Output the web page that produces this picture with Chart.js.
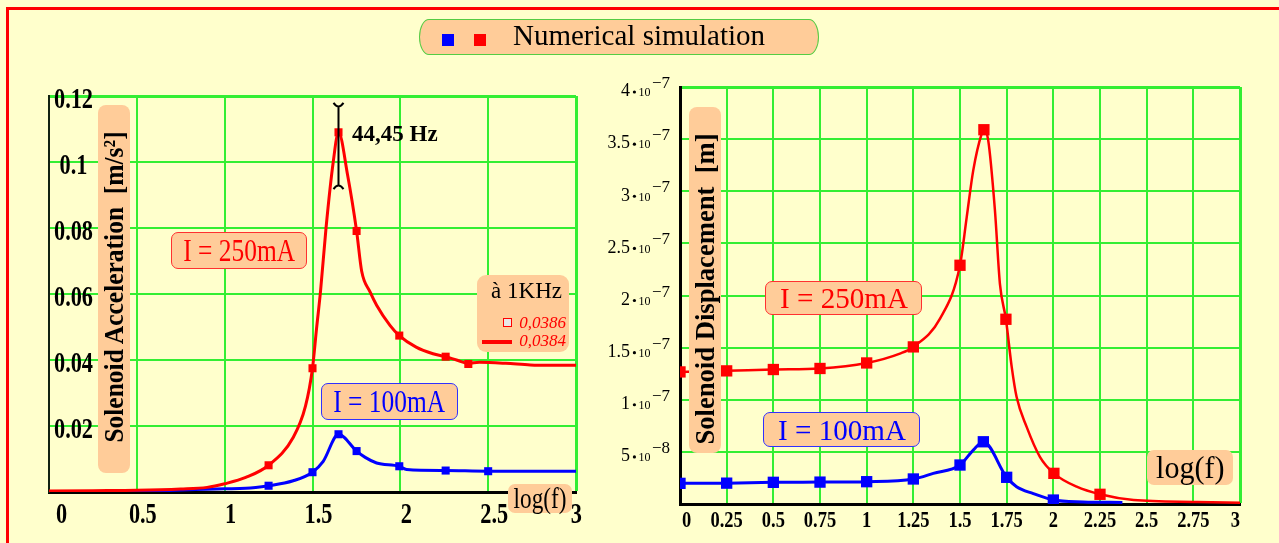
<!DOCTYPE html>
<html>
<head>
<meta charset="utf-8">
<script src="https://cdn.jsdelivr.net/npm/chart.js"></script>
<style>
  body { margin: 0; background: #ffffcc; width: 1279px; height: 543px; overflow: hidden; position: relative; font-family: "Liberation Serif", "DejaVu Serif", serif; }
  canvas { position: absolute; top: 0; }
  .box { position: absolute; background: #ffcc99; border-radius: 7px; box-sizing: border-box; display: flex; align-items: center; justify-content: center; white-space: pre; line-height: 1; }
  .sq { display: inline-block; white-space: pre; }
  .abs { position: absolute; white-space: pre; line-height: 1; }
  .vt { position: absolute; left: 16px; top: 182px; font-weight: bold; font-size: 28px; white-space: pre; line-height: 1; transform: translate(-50%, -50%) rotate(-90deg) scaleX(0.91); }
</style>
</head>
<body>
<div style="position:absolute;left:6px;top:7px;width:1300px;height:600px;border-top:3px solid #ff0000;border-left:3px solid #ff0000;"></div>

<canvas id="accChart" width="600" height="543" style="left:0"></canvas>
<canvas id="dispChart" width="679" height="543" style="left:600px"></canvas>

<!-- legend -->
<div class="box" style="left:419px;top:19px;width:400px;height:36px;border:1px solid #55cc44;border-radius:10px/18px;"></div>
<div class="abs" style="left:442px;top:34px;width:12px;height:12px;background:#0000ff;"></div>
<div class="abs" style="left:474px;top:34px;width:12px;height:12px;background:#ff0000;"></div>
<div class="abs" style="left:513px;top:21px;font-size:29px;">Numerical simulation</div>

<!-- left chart notes -->
<div class="box" style="left:98px;top:105px;width:32px;height:368px;border-radius:8px;"><span class="vt">Solenoid Acceleration  [m/s²]</span></div>
<div class="box" style="left:171px;top:232px;width:136px;height:37px;border:1px solid #ff3030;color:#ff0000;font-size:31px;"><span class="sq" style="transform:scaleX(0.82)">I = 250mA</span></div>
<div class="box" style="left:321px;top:383px;width:137px;height:37px;border:1px solid #3030ff;color:#0000ff;font-size:31px;"><span class="sq" style="transform:scaleX(0.82)">I = 100mA</span></div>
<div class="box" style="left:508px;top:484px;width:64px;height:29px;font-size:29px;"><span class="sq" style="transform:scaleX(0.8)">log(f)</span></div>
<div class="abs" style="left:352px;top:122px;font-size:23px;font-weight:bold;">44,45 Hz</div>
<div class="box" style="left:477px;top:275px;width:92px;height:77px;border-radius:9px;display:block;">
  <div class="abs" style="right:7px;top:4px;font-size:23px;">à 1KHz</div>
  <div class="abs" style="left:26px;top:43px;width:9px;height:9px;box-sizing:border-box;background:#e8e8e8;border:1px solid #ff0000;"></div>
  <div class="abs" style="right:3px;top:39px;font-size:17px;font-style:italic;color:#ff0000;">0,0386</div>
  <div class="abs" style="left:5px;top:65px;width:30px;height:4px;background:#ff0000;"></div>
  <div class="abs" style="right:3px;top:57px;font-size:17px;font-style:italic;color:#ff0000;">0,0384</div>
</div>

<!-- right chart notes -->
<div class="box" style="left:689px;top:107px;width:32px;height:346px;border-radius:8px;"><span class="vt" style="top:182px;transform:translate(-50%,-50%) rotate(-90deg) scaleX(0.95)">Solenoid Displacement  [m]</span></div>
<div class="box" style="left:765px;top:281px;width:157px;height:34px;border:1px solid #ff3030;color:#ff0000;font-size:30px;"><span class="sq" style="transform:scaleX(0.97)">I = 250mA</span></div>
<div class="box" style="left:763px;top:412px;width:157px;height:35px;border:1px solid #3030ff;color:#0000ff;font-size:30px;"><span class="sq" style="transform:scaleX(0.97)">I = 100mA</span></div>
<div class="box" style="left:1147px;top:450px;width:86px;height:35px;font-size:31px;"><span class="sq" style="transform:scaleX(0.97)">log(f)</span></div>

<script>
// acceleration chart (left) - log(f) vs m/s²
const accX250 = [0, 0.25, 0.5, 0.75, 0.9, 1.0, 1.12, 1.25, 1.39, 1.46, 1.5, 1.523, 1.546, 1.577, 1.618, 1.648, 1.70, 1.751, 1.78, 1.827, 1.865, 1.941, 1.994, 2.09, 2.186, 2.258, 2.32, 2.387, 2.45, 2.6, 2.74, 2.85, 3.0];
const accY250 = [0.0003, 0.0004, 0.0005, 0.0009, 0.0014, 0.0025, 0.0044, 0.0081, 0.0165, 0.026, 0.0375, 0.0495, 0.061, 0.080, 0.100, 0.109, 0.096, 0.0791, 0.0669, 0.0607, 0.0566, 0.0505, 0.0474, 0.0439, 0.0419, 0.0410, 0.0400, 0.0390, 0.0393, 0.0390, 0.0385, 0.0384, 0.0384];
const accMarkX250 = [1.25, 1.5, 1.648, 1.751, 1.994, 2.258, 2.387];
const accMarkY250 = [0.0081, 0.0375, 0.109, 0.0791, 0.0474, 0.041, 0.0388];

const accX100 = [0, 0.5, 1.0, 1.12, 1.25, 1.39, 1.5, 1.561, 1.648, 1.751, 1.80, 1.865, 1.994, 2.036, 2.258, 2.5, 3.0];
const accY100 = [0.0001, 0.0002, 0.001, 0.0011, 0.0019, 0.0034, 0.006, 0.0093, 0.0175, 0.0124, 0.0105, 0.0088, 0.0078, 0.0068, 0.0065, 0.0063, 0.0063];
const accMarkX100 = [1.25, 1.5, 1.648, 1.751, 1.994, 2.258, 2.5];
const accMarkY100 = [0.0019, 0.006, 0.0175, 0.0124, 0.0078, 0.0065, 0.0063];

const accXTicks = [0, 0.5, 1, 1.5, 2, 2.5, 3];
const accXLabels = ['0', '0.5', '1', '1.5', '2', '2.5', '3'];
const accYTicks = [0.02, 0.04, 0.06, 0.08, 0.1, 0.12];
const accYLabels = ['0.02', '0.04', '0.06', '0.08', '0.1', '0.12'];
const peakBar = [1.648, 0.0927, 0.117]; // x, low, high

// displacement chart (right), values in 1e-7 m
const dispX250 = [0, 0.25, 0.5, 0.75, 1.0, 1.178, 1.25, 1.393, 1.5, 1.536, 1.571, 1.616, 1.628, 1.651, 1.687, 1.714, 1.746, 1.777, 1.803, 1.857, 1.928, 2.003, 2.125, 2.25, 2.43, 2.77, 3.0];
const dispY250 = [1.267, 1.277, 1.29, 1.30, 1.353, 1.443, 1.507, 1.778, 2.29, 2.752, 3.2, 3.55, 3.59, 3.49, 2.82, 2.11, 1.772, 1.315, 1.028, 0.74, 0.453, 0.294, 0.166, 0.093, 0.038, 0.02, 0.012];
const dispMarkX250 = [0, 0.25, 0.5, 0.75, 1.0, 1.25, 1.5, 1.628, 1.746, 2.003, 2.25];
const dispMarkY250 = [1.267, 1.277, 1.29, 1.30, 1.353, 1.507, 2.29, 3.59, 1.772, 0.294, 0.093];

const dispX100 = [0, 0.25, 0.5, 0.75, 1.0, 1.25, 1.357, 1.5, 1.571, 1.625, 1.75, 1.803, 1.893, 2.0, 2.16, 2.37];
const dispY100 = [0.198, 0.2, 0.208, 0.21, 0.214, 0.24, 0.294, 0.374, 0.517, 0.597, 0.256, 0.166, 0.1, 0.038, 0.02, 0.015];
const dispMarkX100 = [0, 0.25, 0.5, 0.75, 1.0, 1.25, 1.5, 1.625, 1.75, 2.0];
const dispMarkY100 = [0.198, 0.2, 0.208, 0.21, 0.214, 0.24, 0.374, 0.597, 0.256, 0.038];

const dispXTicks = [0, 0.25, 0.5, 0.75, 1, 1.25, 1.5, 1.75, 2, 2.25, 2.5, 2.75, 3];
const dispXLabels = ['0', '0.25', '0.5', '0.75', '1', '1.25', '1.5', '1.75', '2', '2.25', '2.5', '2.75', '3'];
const dispYTicks = [0.5, 1, 1.5, 2, 2.5, 3, 3.5, 4];
const dispYMant = ['5', '1', '1.5', '2', '2.5', '3', '3.5', '4'];
const dispYExp = ['\u22128', '\u22127', '\u22127', '\u22127', '\u22127', '\u22127', '\u22127', '\u22127'];

const SERIF = '"Liberation Serif", "DejaVu Serif", serif';
const GRID = '#33ee33';

function pts(xs, ys) {
  return xs.map((x, i) => ({ x: x, y: ys[i] }));
}

function squeezed(ctx, txt, x, y, sx) {
  ctx.save();
  ctx.translate(x, y);
  ctx.scale(sx, 1);
  ctx.fillText(txt, 0, 0);
  ctx.restore();
}

function markers(xs, ys, color, r) {
  return { data: pts(xs, ys), showLine: false, pointStyle: 'rect', pointRadius: r, backgroundColor: color, borderWidth: 0 };
}
function curve(xs, ys, color, w) {
  return { data: pts(xs, ys), showLine: true, borderColor: color, borderWidth: w, pointRadius: 0, cubicInterpolationMode: 'monotone' };
}

// tick labels of the left chart, condensed bold serif
const accLabels = {
  id: 'accLabels',
  afterDraw(chart) {
    const ctx = chart.ctx, area = chart.chartArea;
    const xs = chart.scales.x, ys = chart.scales.y;
    ctx.save();
    ctx.fillStyle = '#000';
    ctx.font = 'bold 29px ' + SERIF;
    ctx.textAlign = 'center';
    ctx.textBaseline = 'alphabetic';
    accXTicks.forEach((v, i) => {
      const w = ctx.measureText(accXLabels[i]).width * 0.77;
      let cx = xs.getPixelForValue(v) + 6;
      cx = Math.max(cx, area.left + 7 + w / 2);
      cx = Math.min(cx, area.right + 6 - w / 2);
      squeezed(ctx, accXLabels[i], cx, area.bottom + 31, 0.77);
    });
    accYTicks.forEach((v, i) => {
      squeezed(ctx, accYLabels[i], area.left + 24.5, ys.getPixelForValue(v) + 12, 0.77);
    });
    // resonance marker
    const px = xs.getPixelForValue(peakBar[0]);
    const lo = ys.getPixelForValue(peakBar[1]);
    const hi = ys.getPixelForValue(peakBar[2]);
    ctx.strokeStyle = '#000';
    ctx.lineWidth = 2;
    ctx.beginPath();
    ctx.moveTo(px, hi); ctx.lineTo(px, lo);
    ctx.moveTo(px - 5, hi - 3); ctx.quadraticCurveTo(px, hi + 4, px + 5, hi - 3);
    ctx.moveTo(px - 5, lo + 3); ctx.quadraticCurveTo(px, lo - 4, px + 5, lo + 3);
    ctx.stroke();
    ctx.restore();
  }
};

// tick labels of the right chart, "m·10^e" style on y
const dispLabels = {
  id: 'dispLabels',
  afterDraw(chart) {
    const ctx = chart.ctx, area = chart.chartArea;
    const xs = chart.scales.x, ys = chart.scales.y;
    ctx.save();
    ctx.fillStyle = '#000';
    ctx.font = 'bold 24px ' + SERIF;
    ctx.textAlign = 'center';
    ctx.textBaseline = 'alphabetic';
    dispXTicks.forEach((v, i) => {
      const w = ctx.measureText(dispXLabels[i]).width * 0.77;
      let cx = xs.getPixelForValue(v);
      cx = Math.max(cx, area.left + 2 + w / 2);
      cx = Math.min(cx, area.right - w / 2);
      squeezed(ctx, dispXLabels[i], cx, area.bottom + 23, 0.77);
    });
    ctx.textAlign = 'right';
    dispYTicks.forEach((v, i) => {
      const py = ys.getPixelForValue(v);
      let xr = area.left - 10;
      ctx.font = '17px ' + SERIF;
      ctx.fillText(dispYExp[i], xr, py + 1);
      xr -= ctx.measureText(dispYExp[i]).width + 1.5;
      ctx.font = '12px ' + SERIF;
      ctx.fillText('10', xr, py + 9.3);
      xr -= ctx.measureText('10').width + 4;
      ctx.beginPath();
      ctx.arc(xr, py + 5, 1.6, 0, Math.PI * 2);
      ctx.fill();
      ctx.font = '18px ' + SERIF;
      ctx.fillText(dispYMant[i], xr - 4.5, py + 9.3);
    });
    ctx.restore();
  }
};

function gridWidth(edge) {
  return c => (c.tick && c.tick.value >= edge - 1e-9 ? 3 : 2);
}

new Chart(document.getElementById('accChart'), {
  type: 'scatter',
  data: {
    datasets: [
      markers(accMarkX250, accMarkY250, '#ff0000', 5.7),
      markers(accMarkX100, accMarkY100, '#0000ff', 5.7),
      curve(accX250, accY250, '#ff0000', 3),
      curve(accX100, accY100, '#0000ff', 3)
    ]
  },
  options: {
    responsive: false,
    animation: false,
    events: [],
    layout: { padding: { top: 96, right: 24, left: 0, bottom: 0 }, autoPadding: false },
    plugins: { legend: { display: false }, tooltip: { enabled: false } },
    scales: {
      x: {
        type: 'linear', min: 0, max: 3,
        ticks: { stepSize: 0.5, display: false },
        grid: { color: GRID, lineWidth: gridWidth(3), drawTicks: false },
        border: { color: '#000', width: 3 },
        afterFit: s => { s.height = 51; }
      },
      y: {
        type: 'linear', min: 0, max: 0.12,
        ticks: { stepSize: 0.02, display: false },
        grid: { color: GRID, lineWidth: gridWidth(0.12), drawTicks: false },
        border: { color: '#112211', width: 2 },
        afterFit: s => { s.width = 49; }
      }
    }
  },
  plugins: [accLabels]
});

new Chart(document.getElementById('dispChart'), {
  type: 'scatter',
  data: {
    datasets: [
      markers(dispMarkX250, dispMarkY250, '#ff0000', 8),
      markers(dispMarkX100, dispMarkY100, '#0000ff', 8),
      curve(dispX250, dispY250, '#ff0000', 2.5),
      curve(dispX100, dispY100, '#0000ff', 3)
    ]
  },
  options: {
    responsive: false,
    animation: false,
    events: [],
    layout: { padding: { top: 87, right: 39, left: 0, bottom: 0 }, autoPadding: false },
    plugins: { legend: { display: false }, tooltip: { enabled: false } },
    scales: {
      x: {
        type: 'linear', min: 0, max: 3,
        ticks: { stepSize: 0.25, display: false },
        grid: { color: GRID, lineWidth: gridWidth(3), drawTicks: false },
        border: { color: '#000', width: 3 },
        afterFit: s => { s.height = 39; }
      },
      y: {
        type: 'linear', min: 0, max: 4,
        ticks: { stepSize: 0.5, display: false },
        grid: { color: GRID, lineWidth: gridWidth(4), drawTicks: false },
        border: { color: '#000', width: 3 },
        afterFit: s => { s.width = 80; }
      }
    }
  },
  plugins: [dispLabels]
});
</script>
</body>
</html>
